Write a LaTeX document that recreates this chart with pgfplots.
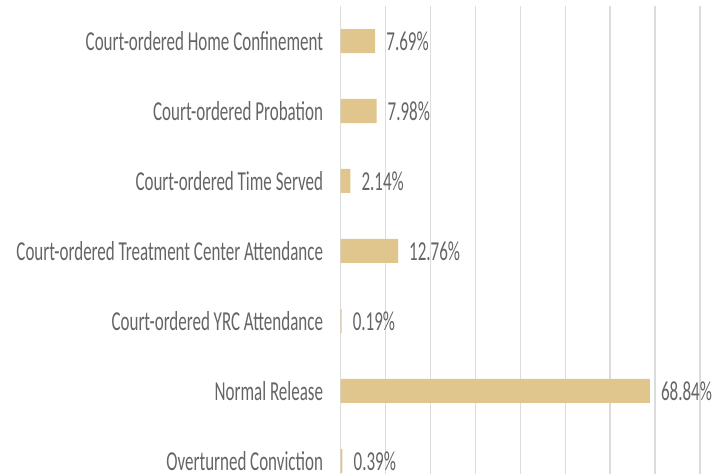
\documentclass[border=0pt]{standalone}
\usepackage{pgfplots}
\pgfplotsset{compat=1.18}
\usepackage{fontspec}
\setmainfont[FakeStretch=0.62]{Carlito}
\definecolor{barfill}{HTML}{E0C58C}
\definecolor{txt}{HTML}{656565}
\definecolor{grd}{HTML}{DCDCDC}
\newcommand{\lblfont}{\fontsize{27.4}{30}\selectfont}
\begin{document}
\begin{tikzpicture}[x=1pt,y=1pt]
  \path[use as bounding box] (0,0) rectangle (714,474);
  \begin{axis}[
      at={(340.7pt,0pt)}, anchor=south west,
      scale only axis, width=359.3pt, height=468pt,
      xbar, bar width=24pt,
      xmin=0, xmax=80, xtick={0,10,...,80}, xticklabels={},
      xmajorgrids, grid style={grd, line width=1.4pt},
      ymin=-0.5, ymax=6.186, y dir=reverse,
      ytick={0,...,6},
      yticklabels={Court-ordered Home Confinement, Court-ordered Probation,
        Court-ordered Time Served, Court-ordered Treatment Center Attendance,
        Court-ordered YRC Attendance, Normal Release, Overturned Conviction},
      major tick length=0pt,
      axis line style={draw=none},
      yticklabel style={font=\lblfont, text=txt, anchor=east, inner sep=0pt, xshift=-17.5pt},
      nodes near coords, point meta=explicit symbolic,
      nodes near coords style={font=\lblfont, text=txt, anchor=west, inner sep=0pt, xshift=11pt},
      clip=false,
    ]
    \addplot[fill=barfill, draw=none] coordinates {
      (7.69,0) [7.69\%]
      (7.98,1) [7.98\%]
      (2.14,2) [2.14\%]
      (12.76,3) [12.76\%]
      (0.19,4) [0.19\%]
      (68.84,5) [68.84\%]
      (0.39,6) [0.39\%]
    };
  \end{axis}
\end{tikzpicture}
\end{document}
